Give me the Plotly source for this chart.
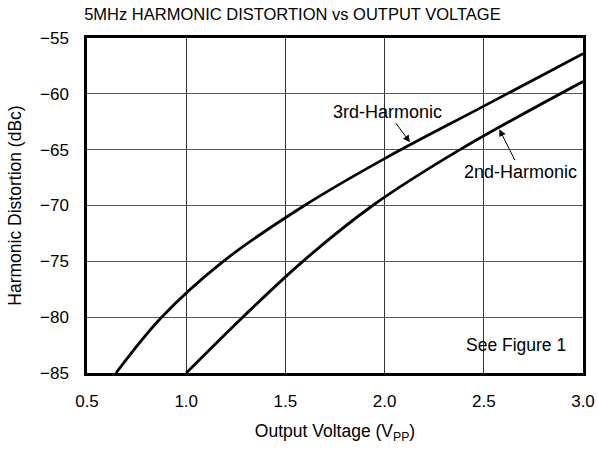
import plotly.graph_objects as go

# Data
x_3rd = [0.646, 0.876, 1.187, 1.596, 2.0, 2.5, 3.0]
y_3rd = [-85, -80, -75, -70, -65.8, -61.1, -56.4]

x_2nd = [1.0, 1.285, 1.588, 1.94, 2.38, 3.0]
y_2nd = [-85, -80, -75, -70, -65, -58.9]

x_ticks = [0.5, 1.0, 1.5, 2.0, 2.5, 3.0]
y_ticks = [-85, -80, -75, -70, -65, -60, -55]

FONT = "Liberation Sans, Arial, Helvetica, sans-serif"

fig = go.Figure()
fig.add_trace(go.Scatter(x=x_3rd, y=y_3rd, mode="lines", name="3rd-Harmonic",
                         line=dict(color="black", width=2.8, shape="spline", smoothing=1.0)))
fig.add_trace(go.Scatter(x=x_2nd, y=y_2nd, mode="lines", name="2nd-Harmonic",
                         line=dict(color="black", width=2.8, shape="spline", smoothing=1.0)))

annotations = [
    dict(x=2.128, y=-64.34, ax=2.014, ay=-61.6, axref="x", ayref="y",
         text="3rd-Harmonic", font=dict(size=18),
         showarrow=True, arrowhead=2, arrowsize=1.4, arrowwidth=1, arrowcolor="black"),
    dict(x=2.578, y=-63.17, ax=2.686, ay=-66.97, axref="x", ayref="y",
         text="2nd-Harmonic", font=dict(size=18),
         showarrow=True, arrowhead=2, arrowsize=1.4, arrowwidth=1, arrowcolor="black"),
    dict(x=2.662, y=-82.5, text="See Figure 1", showarrow=False, font=dict(size=17.5)),
]

W, H = 598, 449
fig.update_layout(
    width=W, height=H,
    margin=dict(l=87, r=15, t=38, b=76),
    paper_bgcolor="white", plot_bgcolor="white",
    font=dict(family=FONT, size=17, color="black"),
    showlegend=False,
    title=dict(text="5MHz HARMONIC DISTORTION vs OUTPUT VOLTAGE",
               x=0.489, xref="container", xanchor="center",
               y=1 - 14 / H, yref="container", yanchor="middle",
               font=dict(size=16.5)),
    annotations=annotations,
)
fig.update_xaxes(range=[0.5, 3.0], tickvals=x_ticks, ticktext=[f"{v:.1f}" for v in x_ticks],
                 showgrid=True, gridcolor="#333", gridwidth=1, zeroline=False,
                 showline=True, mirror=True, linecolor="black", linewidth=2.5,
                 ticks="", ticklabelstandoff=11, automargin=False,
                 title=dict(text="Output Voltage (V<sub>PP</sub>)", standoff=15, font=dict(size=17.5)))
fig.update_yaxes(range=[-85, -55], tickvals=y_ticks, ticktext=[f"\u2212{abs(v)}" for v in y_ticks],
                 showgrid=True, gridcolor="#555", gridwidth=1, zeroline=False,
                 showline=True, mirror=True, linecolor="black", linewidth=2.5,
                 ticks="", ticklabelstandoff=12, automargin=False,
                 title=dict(text="Harmonic Distortion (dBc)", standoff=14, font=dict(size=17.5)))

fig.write_html("out.html", config={"displayModeBar": False},
               post_script="document.body.style.margin='0';document.body.style.overflow='hidden';")
